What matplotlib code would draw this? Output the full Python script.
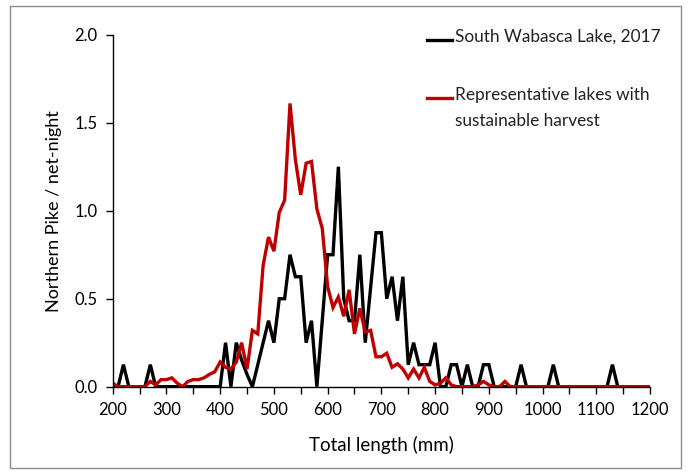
import numpy as np
import matplotlib.pyplot as plt
from matplotlib.patches import Rectangle

# length bins (mm), 10 mm wide
lengths = np.arange(200, 1210, 10)

# South Wabasca Lake, 2017 (fish / net-night)
wabasca = [
    0, 0, 0.125, 0, 0, 0, 0, 0.125, 0, 0,          # 200-290
    0, 0, 0, 0, 0, 0, 0, 0, 0, 0,                  # 300-390
    0, 0.25, 0, 0.25, 0.15, 0.07, 0, 0.125, 0.25, 0.375,   # 400-490
    0.25, 0.5, 0.5, 0.75, 0.625, 0.625, 0.25, 0.375, 0, 0.375,  # 500-590
    0.75, 0.75, 1.25, 0.5, 0.375, 0.375, 0.75, 0.25, 0.5625, 0.875,  # 600-690
    0.875, 0.5, 0.625, 0.375, 0.625, 0.125, 0.25, 0.125, 0.125, 0.125,  # 700-790
    0.25, 0, 0, 0.125, 0.125, 0, 0.125, 0, 0, 0.125,  # 800-890
    0.125, 0, 0, 0, 0, 0, 0.125, 0, 0, 0,          # 900-990
    0, 0, 0.125, 0, 0, 0, 0, 0, 0, 0,              # 1000-1090
    0, 0, 0, 0.125, 0, 0, 0, 0, 0, 0,              # 1100-1190
    0,                                             # 1200
]

# Representative lakes with sustainable harvest
representative = [
    0.02, 0, 0, 0, 0, 0, 0, 0.03, 0.01, 0.04,      # 200-290
    0.04, 0.05, 0.02, 0, 0.03, 0.04, 0.04, 0.05, 0.07, 0.085,  # 300-390
    0.14, 0.11, 0.10, 0.14, 0.25, 0.10, 0.32, 0.30, 0.69, 0.85,  # 400-490
    0.77, 0.99, 1.06, 1.61, 1.29, 1.09, 1.27, 1.28, 1.01, 0.90,  # 500-590
    0.57, 0.45, 0.51, 0.40, 0.55, 0.30, 0.445, 0.31, 0.32, 0.17,  # 600-690
    0.17, 0.19, 0.11, 0.13, 0.10, 0.05, 0.10, 0.05, 0.11, 0.03,  # 700-790
    0.01, 0.02, 0.05, 0.01, 0, 0, 0, 0, 0.01, 0.03,  # 800-890
    0.01, 0, 0, 0.03, 0, 0, 0, 0, 0, 0,            # 900-990
    0, 0, 0, 0, 0, 0, 0, 0, 0, 0,                  # 1000-1090
    0, 0, 0, 0, 0, 0, 0, 0, 0, 0,                  # 1100-1190
    0,                                             # 1200
]

labels = ["South Wabasca Lake, 2017", "Representative lakes with\nsustainable harvest"]
colors = ["black", "#C00000"]

plt.rcParams['font.family'] = ['Lato', 'DejaVu Sans']

fig = plt.figure(figsize=(6.88, 4.73), dpi=100)
ax = fig.add_axes([0.1638, 0.1825, 0.781, 0.744])

ax.plot(lengths, wabasca, color=colors[0], lw=2.4, solid_joinstyle='miter')
ax.plot(lengths, representative, color=colors[1], lw=2.4, solid_joinstyle='miter')

ax.set_xlim(200, 1200)
ax.set_ylim(0, 2.0)
ax.set_xticks(np.arange(200, 1201, 100))
ax.set_xticks(np.arange(250, 1200, 100), minor=True)
ax.set_yticks(np.arange(0, 2.01, 0.5))
ax.set_yticklabels([f"{v:.1f}" for v in np.arange(0, 2.01, 0.5)])
ax.tick_params(axis='both', which='both', length=5, width=1, labelsize=12, pad=6)

for side in ['top', 'right']:
    ax.spines[side].set_visible(False)
for side in ['left', 'bottom']:
    ax.spines[side].set_linewidth(1)

ax.set_xlabel("Total length (mm)", fontsize=13.5, labelpad=13)
ax.set_ylabel("Northern Pike / net-night", fontsize=13, labelpad=9)

# legend drawn by hand so the red key sits on the first text line
key_y = [0.985, 0.820]
for lab, c, ky in zip(labels, colors, key_y):
    ax.plot([0.585, 0.632], [ky, ky], color=c, lw=2.4, transform=ax.transAxes, clip_on=False)
    ax.text(0.637, ky + 0.032, lab, transform=ax.transAxes, va='top', fontsize=12.4,
            linespacing=1.75, color='#222222')

# grey frame round the chart
fig.patches.append(Rectangle((10 / 688, 5 / 473), 671 / 688, 462 / 473, transform=fig.transFigure,
                             fill=False, edgecolor='#8c8c8c', lw=1))

fig.savefig("out.png", dpi=100)
